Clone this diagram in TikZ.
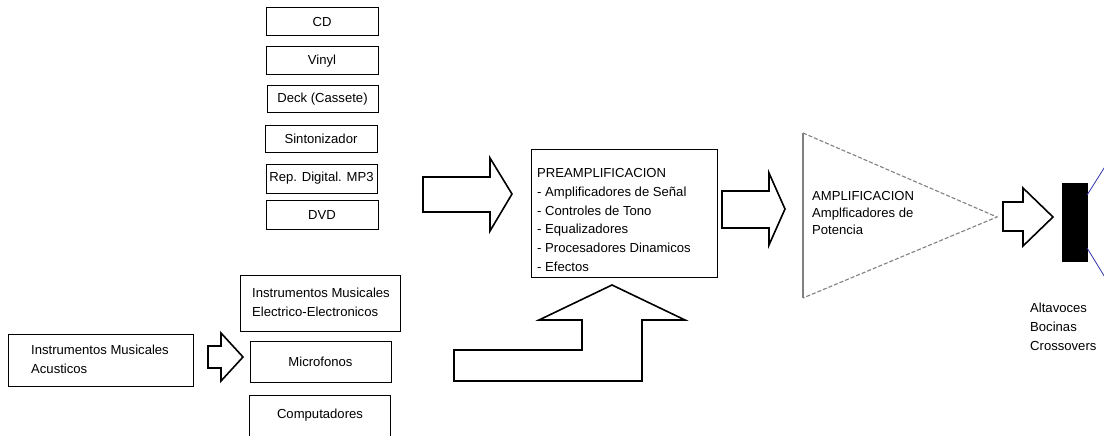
\documentclass[tikz,border=0pt]{standalone}
\usepackage{fontspec}
\setmainfont{Liberation Sans}
\begin{document}
\begin{tikzpicture}[x=1pt,y=-1pt,
  txt/.style={inner sep=0pt, font=\fontsize{13.1}{18.7}\selectfont, align=left, anchor=west},
  box/.style={draw, line width=1pt, inner sep=0pt, font=\fontsize{13.1}{15}\selectfont},
  blockarrow/.style={draw, line width=1.6pt, fill=white, line join=miter},
  ampedge/.style={draw=gray, line width=1.1pt},
  ampdash/.style={draw=gray, line width=1.1pt, dash pattern=on 4pt off 2pt},
  spk/.style={draw=blue!60!black!80, line width=0.8pt}]
\useasboundingbox (0,0) rectangle (1104,436);

% source boxes
\node[box, minimum width=112pt, minimum height=28pt] (cd) at (322,22) {CD};
\node[box, minimum width=112pt, minimum height=28pt] (vinyl) at (322,61) {Vinyl};
\node[box, minimum width=111pt, minimum height=27pt] (deck) at (322.5,99.5) {Deck (Cassete)};
\node[box, minimum width=112pt, minimum height=27pt] (sint) at (321,138.5) {Sintonizador};
\node[box, minimum width=111pt, minimum height=29pt] (rep) at (321.5,178.5) {Rep. Digital. MP3};
\node[box, minimum width=112pt, minimum height=29pt] (dvd) at (322,214.5) {DVD};

% big arrow to preamp
\draw[blockarrow] (423,177) -- (490,177) -- (490,158) -- (512,194) -- (490,231) -- (490,212) -- (423,212) -- cycle;

% preamp
\node[box, minimum width=186pt, minimum height=128pt] (pre) at (624,213) {};
\node[txt] (pretxt) at (537,220) {PREAMPLIFICACION\\- Amplificadores de Señal\\- Controles de Tono\\- Equalizadores\\- Procesadores Dinamicos\\- Efectos};

% arrow to amplifier
\draw[blockarrow] (722,191) -- (769,191) -- (769,173) -- (785,209) -- (769,245) -- (769,228) -- (722,228) -- cycle;

% amplifier triangle
\coordinate (ta) at (803,133);
\coordinate (tb) at (803,298);
\coordinate (tc) at (997,217);
\draw[ampedge] (ta) -- (tb);
\draw[ampdash] (ta) -- (tc) -- (tb);
\node[txt, font=\fontsize{13.1}{17}\selectfont] (amptxt) at (812,213) {AMPLIFICACION\\Amplficadores de\\Potencia};

% arrow to speaker
\draw[blockarrow] (1003,202) -- (1023,202) -- (1023,188) -- (1053,217) -- (1023,246) -- (1023,231) -- (1003,231) -- cycle;

% speaker
\node[fill=black, draw=black, inner sep=0pt, minimum width=25pt, minimum height=78pt] (spkbox) at (1074.5,222) {};
\coordinate (s1) at (1106,165);
\coordinate (s2) at (1106,279);
\draw[spk] ([yshift=-12pt]spkbox.north east) -- (s1);
\draw[spk] ([yshift=13pt]spkbox.south east) -- (s2);
\node[txt, font=\fontsize{13.1}{19}\selectfont] (spktxt) at (1030,327) {Altavoces\\Bocinas\\Crossovers};

% lower inputs
\node[box, minimum width=185pt, minimum height=52pt] (acus) at (100.5,360) {};
\node[txt] (acustxt) at (31,359.5) {Instrumentos Musicales\\Acusticos};

\draw[blockarrow] (208,346) -- (221,346) -- (221,333) -- (243,357) -- (221,381) -- (221,368) -- (208,368) -- cycle;

\node[box, minimum width=160pt, minimum height=56pt] (elec) at (320,303) {};
\node[txt] (electxt) at (252,302.5) {Instrumentos Musicales\\Electrico-Electronicos};

\node[box, minimum width=141pt, minimum height=41pt] (micro) at (320.5,361.5) {Microfonos};

\node[inner sep=0pt, minimum width=140pt, minimum height=50pt] (comp) at (320,421) {};
\draw[line width=1pt] (comp.south west) -- (comp.north west) -- (comp.north east) -- (comp.south east);
\node[inner sep=0pt, font=\fontsize{13.1}{15}\selectfont] (comptxt) at (320,415) {Computadores};

% bent arrow up to preamp
\draw[blockarrow] (454,350) -- (582,350) -- (582,320) -- (539,320) -- (612,285) -- (685,320) -- (642,320) -- (642,381) -- (454,381) -- cycle;
\end{tikzpicture}
\end{document}
